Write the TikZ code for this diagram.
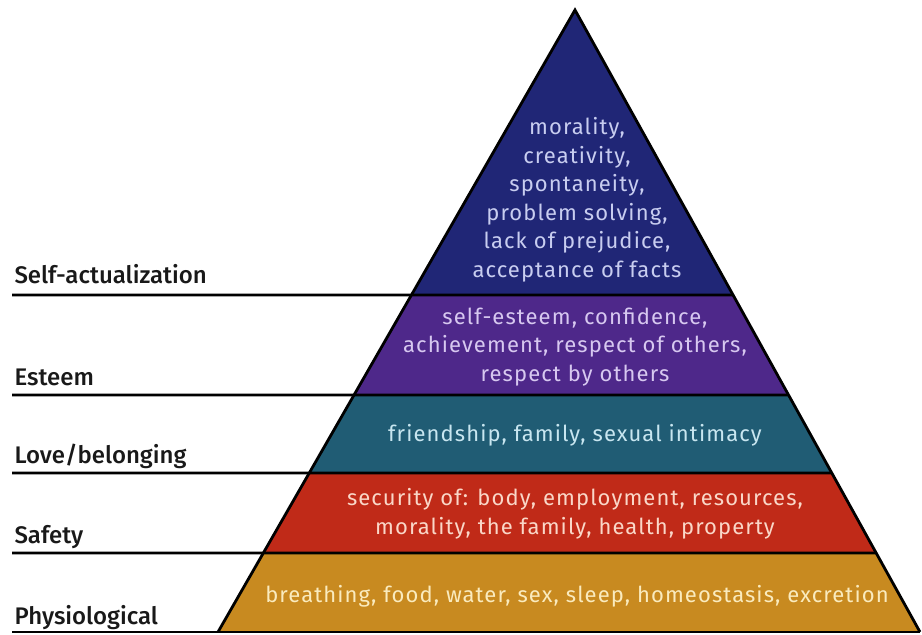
\documentclass[tikz,border=0pt]{standalone}
\usepackage{fontspec}
\setmainfont{Fira Sans}
\newfontfamily\levelfont{Fira Sans Medium}
\newfontfamily\needfont[LetterSpace=5]{Fira Sans}
\usepackage{tikz}
\usetikzlibrary{calc}
\definecolor{selfblue}{RGB}{32,38,118}
\definecolor{esteempurple}{RGB}{78,40,138}
\definecolor{loveteal}{RGB}{32,92,116}
\definecolor{safetyred}{RGB}{192,42,24}
\definecolor{physgold}{RGB}{200,138,32}
\tikzstyle{level} = [anchor=base west, text=black!90, font=\levelfont\fontsize{24}{28}\selectfont]
\tikzstyle{need} = [align=center, font=\needfont\fontsize{22}{28.5}\selectfont]
\tikzstyle{sep} = [draw, line width=2.8pt]

\begin{document}
\begin{tikzpicture}[x=1pt, y=-1pt]
    \useasboundingbox (0,0) rectangle (922,635);
    % Place corners
    \coordinate (apex) at (575,10);
    \coordinate (bl) at (218,632);
    \coordinate (br) at (920,632);
    % Fill bands
    \foreach \ta/\tb/\col in {0/0.4582/selfblue, 0.4582/0.6190/esteempurple, 0.6190/0.7444/loveteal, 0.7444/0.8730/safetyred, 0.8730/1/physgold}
        \fill [\col] ($(apex)!\ta!(bl)$) -- ($(apex)!\tb!(bl)$) -- ($(apex)!\tb!(br)$) -- ($(apex)!\ta!(br)$) -- cycle;
    % Draw outline and separators
    \draw [sep, line join=miter] (bl) -- (apex) -- (br);
    \foreach \t/\y in {0.4582/295, 0.6190/395, 0.7444/473, 0.8730/553, 1/632}
        \draw [sep] (12,\y) -- ($(apex)!\t!(br)$);
    % Place labels
    \node [level] (selfact) at (11,283) {Self-actualization};
    \node [level] (esteem) at (11,385) {Esteem};
    \node [level] (love) at (11,463) {Love/belonging};
    \node [level] (safety) at (11,543) {Safety};
    \node [level] (phys) at (11,624) {Physiological};
    % Place needs
    \node [need, text={rgb,255:red,200;green,205;blue,240}] (selfneeds) at (577,200) {morality,\\creativity,\\spontaneity,\\problem solving,\\lack of prejudice,\\acceptance of facts};
    \node [need, text={rgb,255:red,215;green,200;blue,240}] (esteemneeds) at (575,347) {self-esteem, confidence,\\achievement, respect of others,\\respect by others};
    \node [need, text={rgb,255:red,200;green,230;blue,240}] (loveneeds) at (575,435) {friendship, family, sexual intimacy};
    \node [need, text={rgb,255:red,250;green,215;blue,200}] (safetyneeds) at (575,514) {security of: body, employment, resources,\\morality, the family, health, property};
    \node [need, text={rgb,255:red,250;green,235;blue,190}] (physneeds) at (577,596) {breathing, food, water, sex, sleep, homeostasis, excretion};
\end{tikzpicture}
\end{document}
